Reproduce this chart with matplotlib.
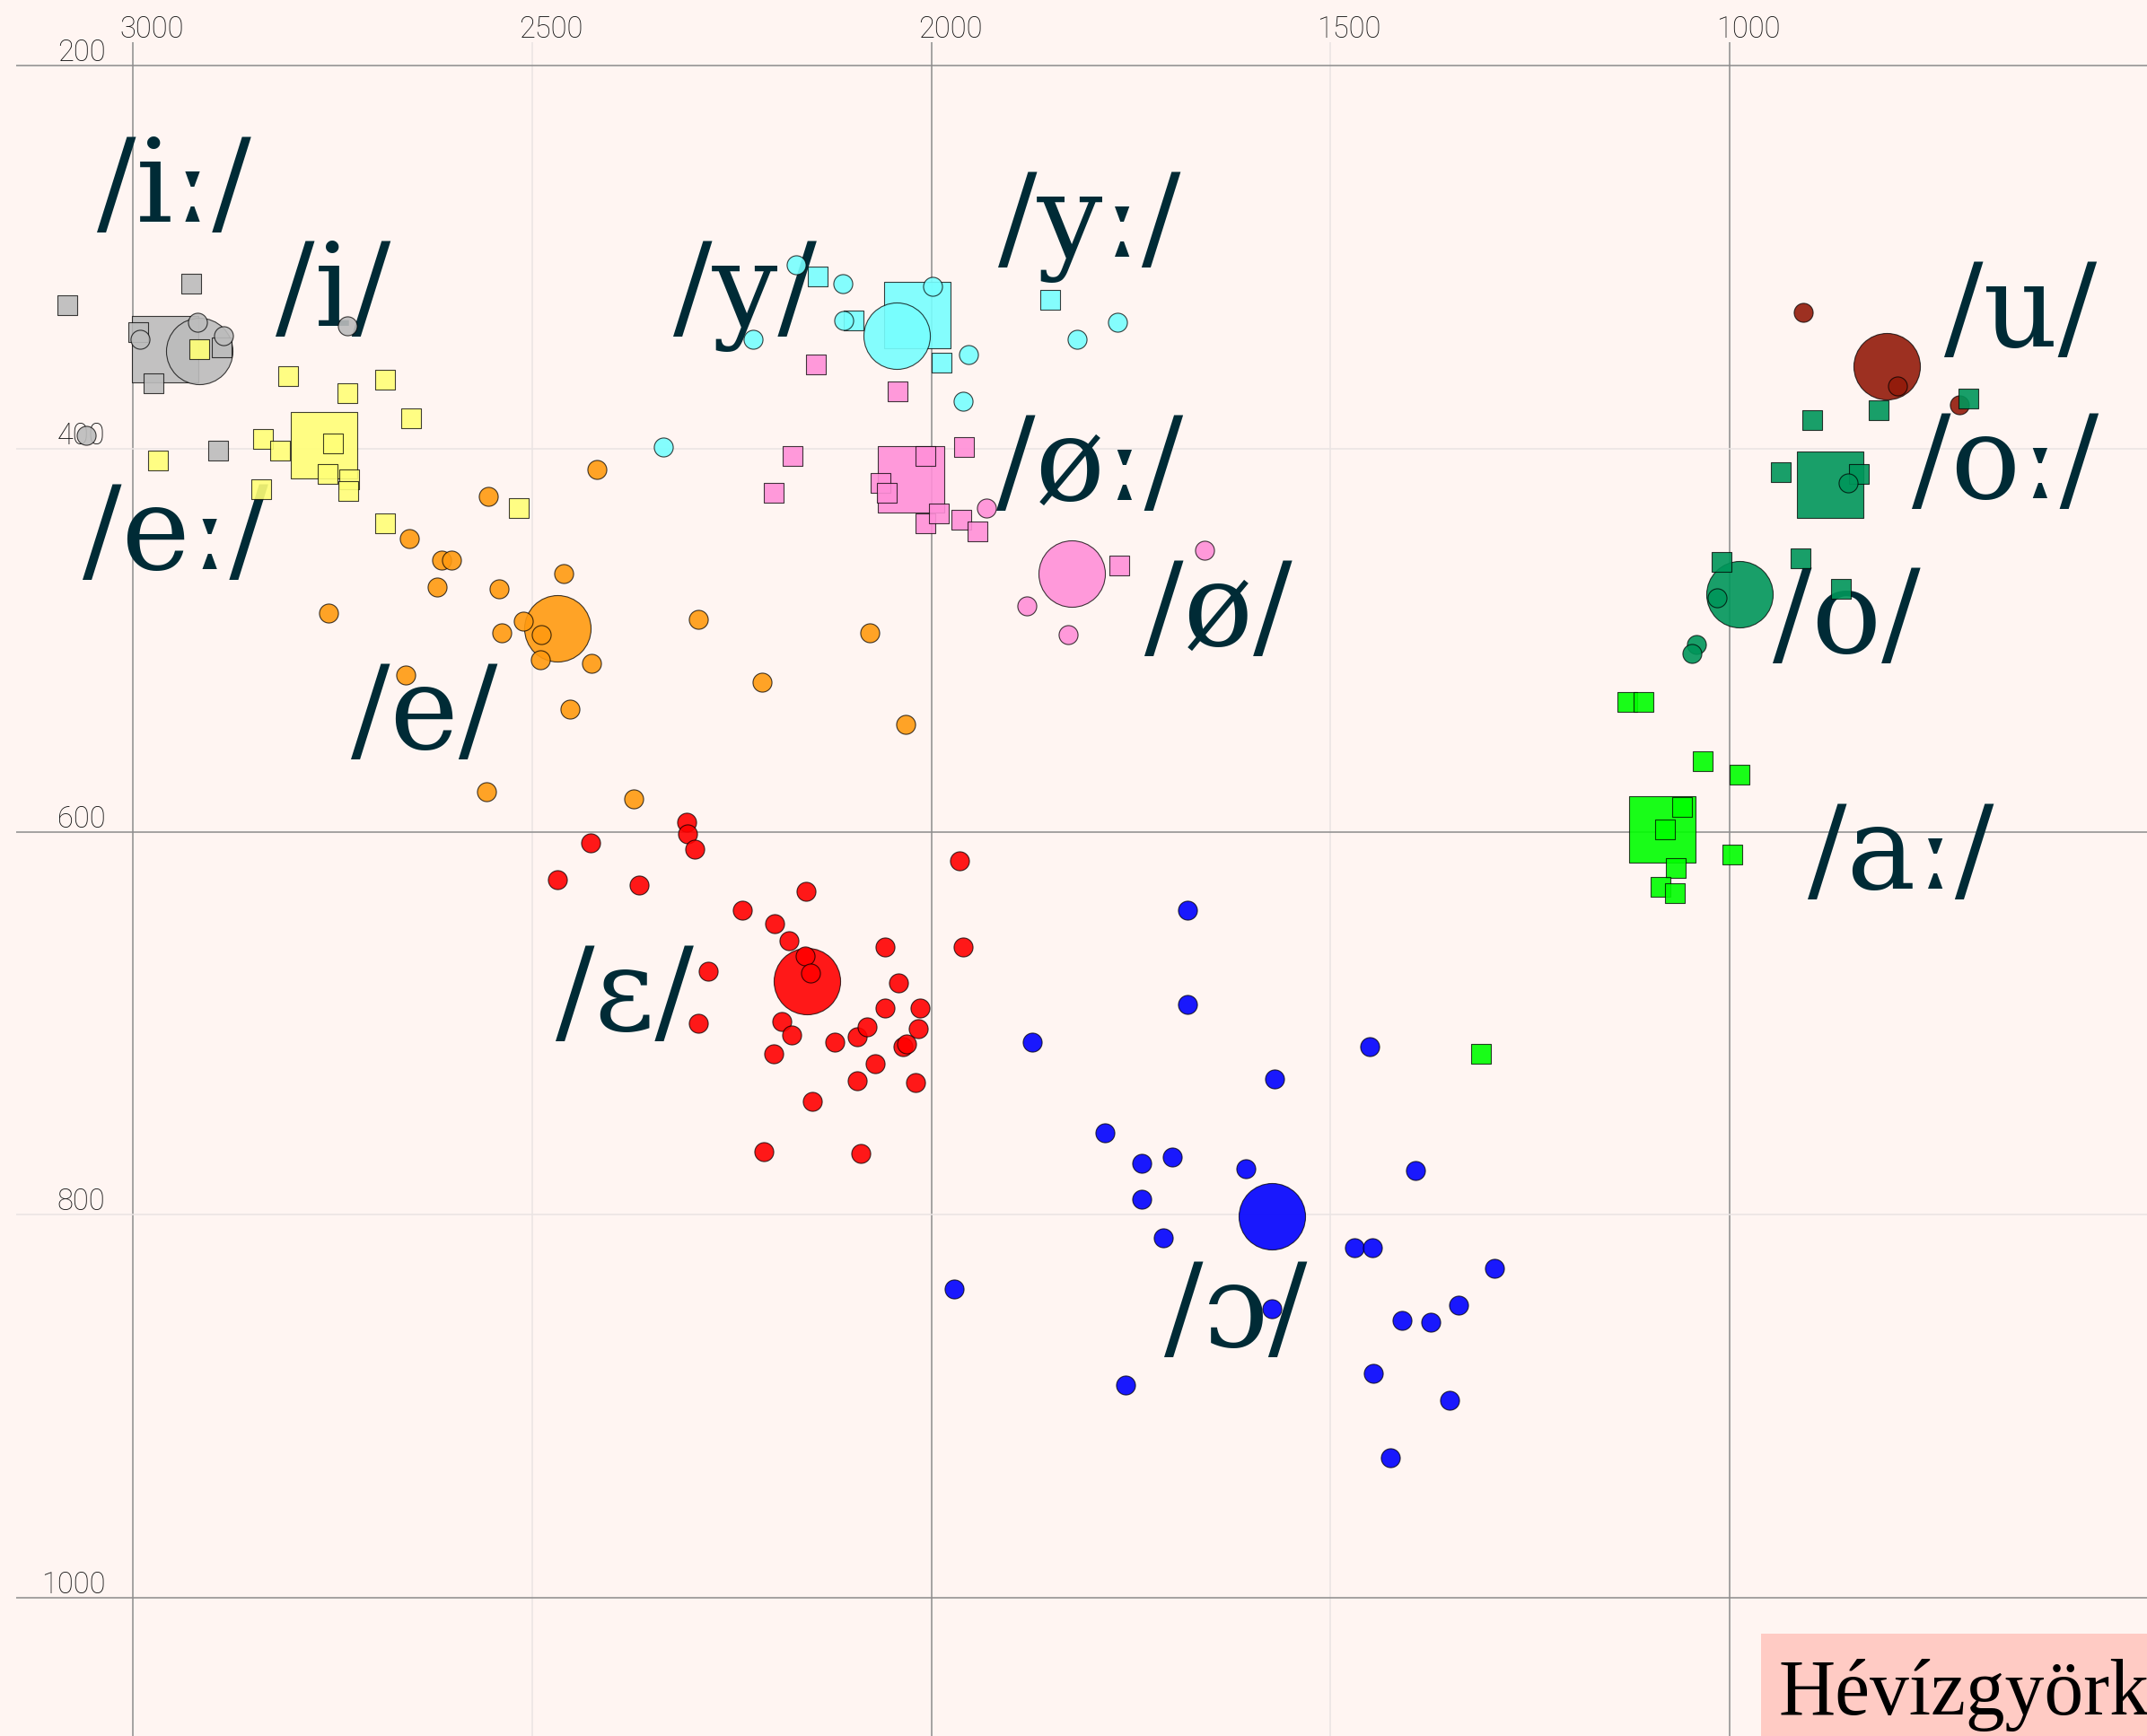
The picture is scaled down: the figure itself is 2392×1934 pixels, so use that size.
import matplotlib
matplotlib.use('Agg')
import matplotlib.pyplot as plt
from matplotlib.colors import to_rgba
from matplotlib.patches import Rectangle

# ---------------- data (F2, F1 in Hz) ----------------
# long /iː/ (squares) and short /i/ (circles)
ii_f2 = [3083, 2927, 2994, 2889, 2975, 2894]
ii_f1 = [325, 314, 339, 347, 366, 401]
ii_mean = (2960, 348)
i_f2 = [2991, 2920, 2887, 2732, 3059]
i_f1 = [343, 334, 341, 336, 393]
i_mean = (2917, 349)

ee_f2 = [2806, 2684, 2732, 2652, 2750, 2838, 2816, 2969, 2756, 2730, 2731, 2840, 2517, 2684, 2917]
ee_f1 = [362, 364, 371, 384, 397, 395, 401, 406, 413, 416, 422, 421, 431, 439, 348]
ee_mean = (2761, 398)
e_f2 = [2419, 2555, 2654, 2614, 2601, 2619, 2542, 2461, 2755, 2538, 2511, 2489, 2490, 2426,
        2292, 2659, 2453, 2557, 2373, 2077, 2212, 2032]
e_f1 = [411, 425, 447, 458, 458, 472, 473, 465, 486, 496, 490, 497, 510, 512,
        489, 518, 536, 579, 583, 496, 522, 544]
e_mean = (2469, 494)

yy_f2 = [2143, 2098, 1987, 1851]
yy_f1 = [310, 333, 355, 322]
yy_mean = (2018, 330)
y_f2 = [2170, 2111, 2110, 2223, 1998, 1954, 1960, 1817, 1767, 2336]
y_f1 = [304, 314, 333, 343, 315, 351, 375, 343, 334, 399]
y_mean = (2043, 341)

oeoe_f2 = [2145, 2042, 1959, 2174, 2007, 2198, 2064, 2056, 2008, 1991, 1963, 1942, 1765]
oeoe_f1 = [356, 370, 399, 404, 404, 423, 418, 423, 439, 434, 437, 443, 461]
oeoe_mean = (2025, 416)
oe_f2 = [1931, 1658, 1880, 1829]
oe_f1 = [431, 453, 482, 497]
oe_mean = (1824, 465)

eps_f2 = [2307, 2306, 2297, 2427, 2469, 2366, 2280, 1965, 2157, 2237, 2197, 2179, 2058, 1960,
          2158, 2152, 2041, 2292, 2188, 2175, 2198, 2121, 2093, 2081, 2058, 2014, 2017, 2036,
          2031, 2070, 2093, 2020, 2149, 2210, 2089]
eps_f1 = [595, 601, 609, 606, 625, 628, 673, 615, 631, 641, 648, 657, 660, 660,
          665, 674, 679, 700, 699, 706, 716, 710, 707, 702, 692, 692, 703, 712,
          711, 721, 730, 731, 741, 767, 768]
eps_mean = (2156, 678)

oo_open_f2 = [1679, 1679, 1874, 1451, 1570, 1783, 1736, 1698, 1606, 1394, 1737, 1709, 1470, 1447,
              1972, 1574, 1410, 1374, 1757, 1446, 1425, 1294, 1339, 1351]
oo_open_f1 = [641, 690, 710, 712, 729, 757, 773, 770, 776, 777, 792, 812, 817, 817,
              839, 849, 855, 856, 889, 883, 927, 828, 847, 897]
oo_open_mean = (1574, 801)

u_f2 = [908, 790, 712]
u_f1 = [329, 367, 377]
u_mean = (803, 357)

ool_f2 = [701, 813, 897, 936, 838, 1010, 911, 861]
ool_f1 = [374, 380, 385, 412, 413, 459, 457, 473]
ool_mean = (874, 419)
o_f2 = [852, 1016, 1042, 1047]
o_f1 = [418, 478, 502, 507]
o_mean = (988, 476)

aa_f2 = [1128, 1108, 1034, 988, 1059, 1081, 996, 1067, 1086, 1069, 1311]
aa_f1 = [532, 532, 563, 570, 587, 599, 612, 619, 629, 632, 716]
aa_mean = (1084, 599)

x_ticks = [3000, 2500, 2000, 1500, 1000]
y_ticks = [200, 400, 600, 800, 1000]

labels = ['/iː/', '/i/', '/y/', '/yː/', '/u/', '/oː/', '/øː/', '/eː/', '/ø/', '/o/',
          '/e/', '/aː/', '/ɛ/', '/ɔ/']
label_f2 = [2949, 2750, 2234, 1802, 636, 655, 1802, 2947, 1641, 853, 2635, 786, 2384, 1619]
label_f1 = [265, 319, 320, 284, 330, 409, 410, 446, 486, 490, 540, 613, 687, 852]

place = 'Hévízgyörk,'

# ---------------- styling ----------------
BG = '#fff5f2'
INK = '#002b36'
C_GRAY = '#bcbcbc'
C_YEL = '#ffff77'
C_ORA = '#ff9a10'
C_CYA = '#77ffff'
C_PNK = '#ff8fd8'
C_RED = '#ff0000'
C_BLU = '#0000ff'
C_DRD = '#921a0a'
C_TEA = '#00965a'
C_LIM = '#00ff00'

groups = [
    (ii_f2, ii_f1, ii_mean, C_GRAY, 's'),
    (i_f2, i_f1, i_mean, C_GRAY, 'o'),
    (ee_f2, ee_f1, ee_mean, C_YEL, 's'),
    (e_f2, e_f1, e_mean, C_ORA, 'o'),
    (yy_f2, yy_f1, yy_mean, C_CYA, 's'),
    (y_f2, y_f1, y_mean, C_CYA, 'o'),
    (oeoe_f2, oeoe_f1, oeoe_mean, C_PNK, 's'),
    (oe_f2, oe_f1, oe_mean, C_PNK, 'o'),
    (eps_f2, eps_f1, eps_mean, C_RED, 'o'),
    (oo_open_f2, oo_open_f1, oo_open_mean, C_BLU, 'o'),
    (u_f2, u_f1, u_mean, C_DRD, 'o'),
    (ool_f2, ool_f1, ool_mean, C_TEA, 's'),
    (o_f2, o_f1, o_mean, C_TEA, 'o'),
    (aa_f2, aa_f1, aa_mean, C_LIM, 's'),
]

W, H = 2392, 1934
fig = plt.figure(figsize=(W / 100, H / 100), dpi=100, facecolor=BG)
ax = fig.add_axes([18 / W, 0, (W - 18) / W, (H - 47) / H])
ax.set_xlim(3146.7, 477)
ax.set_ylim(1072.2, 187.7)
ax.axis('off')

DARK = '#8c8c8c'
LIGHT = '#e9e4e3'
for v in x_ticks:
    ax.axvline(v, color=DARK if v % 1000 == 0 else LIGHT, lw=1.1, zorder=0)
for v in y_ticks:
    ax.axhline(v, color=DARK if v in (200, 600, 1000) else LIGHT, lw=1.1, zorder=0)

tick_font = dict(family='Roboto', weight='light', fontsize=23.5, color='#111111', zorder=1)
for v in x_ticks:
    ax.annotate(str(v), xy=(v, 200), xycoords='data', xytext=(-15, 31),
                textcoords='offset pixels', ha='left', va='baseline', annotation_clip=False,
                **tick_font)
for v in y_ticks:
    ax.annotate(str(v), xy=(3000, v), xycoords='data', xytext=(-31, 5),
                textcoords='offset pixels', ha='right', va='baseline', annotation_clip=False,
                **tick_font)

for txt, lx, ly in zip(labels, label_f2, label_f1):
    ax.text(lx, ly, txt, fontsize=93, family=['DejaVu Serif'], color=INK,
            ha='center', va='center', zorder=2)

EDGE = to_rgba('black', 0.75)
BIG = 53.3
SMALL = 15.2
for f2, f1, mean, col, mk in groups:
    ax.scatter([mean[0]], [mean[1]], s=BIG ** 2, marker=mk, facecolors=[to_rgba(col, 0.9)],
               edgecolors=[EDGE], linewidths=0.8, zorder=3)
for f2, f1, mean, col, mk in groups:
    ax.scatter(f2, f1, s=SMALL ** 2, marker=mk, facecolors=[to_rgba(col, 0.9)],
               edgecolors=[EDGE], linewidths=0.8, zorder=4)

fig.patches.append(Rectangle((1962 / W, 0), (W - 1962) / W, 114 / H,
                             transform=fig.transFigure, facecolor='#ffcbc4',
                             edgecolor='none', zorder=5))
fig.text(1981 / W, 24 / H, place, fontsize=63, family=['Liberation Serif', 'DejaVu Serif'],
         color='black', ha='left', va='baseline', zorder=6)

fig.savefig('out.png', dpi=100, facecolor=BG)
